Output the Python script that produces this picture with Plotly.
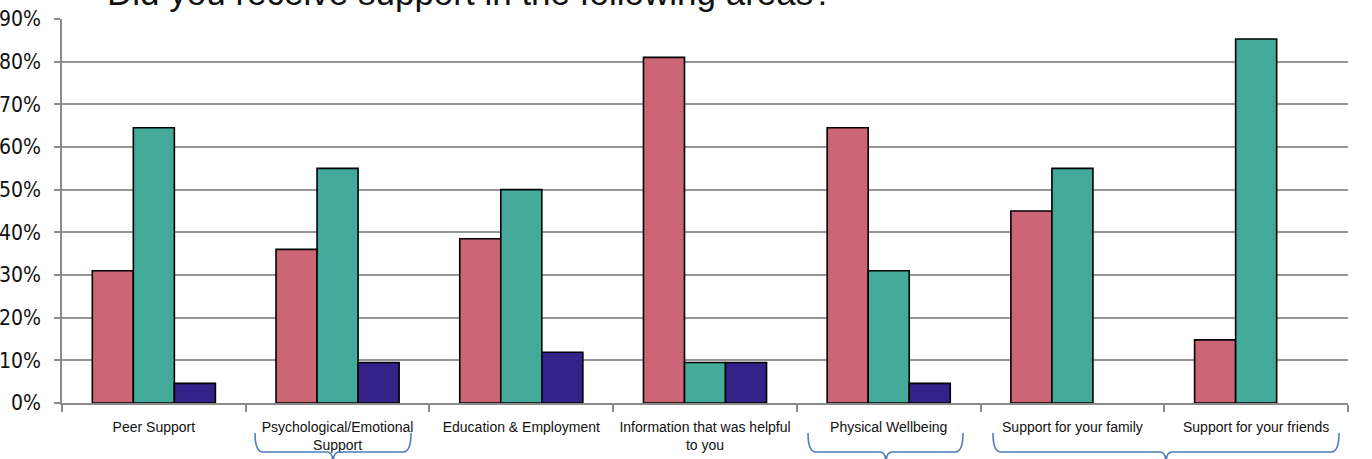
import plotly.graph_objects as go

categories = [
    "Peer Support",
    "Psychological/Emotional<br>Support",
    "Education & Employment",
    "Information that was helpful<br>to you",
    "Physical Wellbeing",
    "Support for your family",
    "Support for your friends",
]
series_a = [0.31, 0.36, 0.385, 0.81, 0.645, 0.45, 0.148]
series_b = [0.645, 0.55, 0.50, 0.095, 0.31, 0.55, 0.853]
series_c = [0.046, 0.095, 0.119, 0.095, 0.046, 0.0, 0.0]
colors = ["#CC6677", "#44AA99", "#332288"]
title_text = "Did you receive support in the following areas?"

W, H = 1372, 459
ML, MR, MT, MB = 62, 24, 19, 56
PW, PH = W - ML - MR, H - MT - MB

fig = go.Figure()
for vals, col in zip([series_a, series_b, series_c], colors):
    fig.add_trace(go.Bar(
        x=categories, y=vals,
        marker=dict(color=col,
                    line=dict(color="black", width=[1.6 if v > 0 else 0 for v in vals])),
        showlegend=False, hoverinfo="skip",
    ))

def px(x):
    return (x - ML) / PW

def py(y):
    return (H - MB - y) / PH

def brace(x0, x1, xm, ytop=433, yh=452, ytip=464, r=8):
    pts = [
        f"M {px(x0)},{py(ytop)}",
        f"Q {px(x0)},{py(yh)} {px(x0 + r)},{py(yh)}",
        f"L {px(xm - 6)},{py(yh)}",
        f"Q {px(xm)},{py(yh)} {px(xm)},{py(ytip)}",
        f"Q {px(xm)},{py(yh)} {px(xm + 6)},{py(yh)}",
        f"L {px(x1 - r)},{py(yh)}",
        f"Q {px(x1)},{py(yh)} {px(x1)},{py(ytop)}",
    ]
    return dict(type="path", xref="paper", yref="paper", path=" ".join(pts),
                line=dict(color="#4A7EBB", width=1.6))

shapes = [brace(255, 411, 333), brace(808, 963, 886), brace(993, 1339, 1166)]

axis_col = "#8a8a8a"
fig.update_layout(
    width=W, height=H,
    margin=dict(l=ML, r=MR, t=MT, b=MB, pad=0, autoexpand=False),
    paper_bgcolor="white", plot_bgcolor="white",
    barmode="group", bargap=0.33, bargroupgap=0,
    shapes=shapes,
    xaxis=dict(
        type="category", automargin=False,
        showline=True, linecolor=axis_col, linewidth=1.6,
        ticks="outside", tickson="boundaries", ticklen=7, tickcolor=axis_col, tickwidth=1.6,
        ticklabelstandoff=10,
        tickfont=dict(family="Liberation Sans, Arial, sans-serif", size=14, color="#111"),
        showgrid=False,
    ),
    yaxis=dict(
        range=[0, 0.9], dtick=0.1, tickformat=".0%", automargin=False,
        showline=True, linecolor=axis_col, linewidth=1.6,
        ticks="outside", ticklen=6, tickcolor=axis_col, tickwidth=1.6,
        ticklabelstandoff=9,
        showgrid=True, gridcolor="#969696", gridwidth=1.6,
        zeroline=False,
        tickfont=dict(family="Liberation Sans Narrow, DejaVu Sans Condensed, Arial Narrow, sans-serif", size=21, color="#111"),
    ),
    annotations=[dict(
        text=title_text, xref="paper", yref="paper",
        x=px(105), y=py(14), xanchor="left", yanchor="bottom",
        showarrow=False,
        font=dict(family="Liberation Sans, Arial, sans-serif", size=35, color="#111"),
    )],
)

fig.write_html("out.html")
